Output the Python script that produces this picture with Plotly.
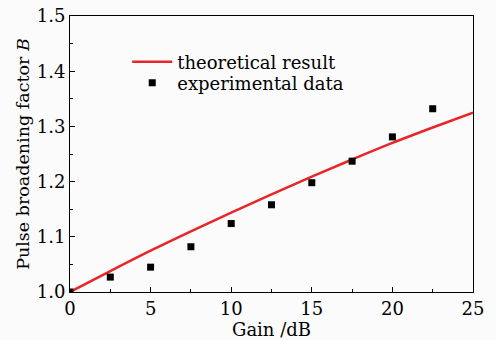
import plotly.graph_objects as go

gain_exp = [0, 2.5, 5, 7.5, 10, 12.5, 15, 17.5, 20, 22.5]
b_exp = [1.0, 1.027, 1.045, 1.082, 1.124, 1.158, 1.198, 1.237, 1.281, 1.332]

gain_theory = [0, 2.5, 5, 7.5, 10, 12.5, 15, 17.5, 20, 22.5, 25]
b_theory = [1.0, 1.038, 1.075, 1.110, 1.144, 1.177, 1.209, 1.240, 1.270, 1.298, 1.325]

x_ticks = [0, 5, 10, 15, 20, 25]
y_ticks = [1.0, 1.1, 1.2, 1.3, 1.4, 1.5]

FONT = "DejaVu Serif"

fig = go.Figure()
fig.add_trace(go.Scatter(x=gain_theory, y=b_theory, mode="lines",
                         name="theoretical result", legend="legend",
                         line=dict(color="#e8262a", width=2.5, shape="spline")))
fig.add_trace(go.Scatter(x=gain_exp, y=b_exp, mode="markers",
                         name="experimental data", legend="legend2",
                         marker=dict(symbol="square", color="black", size=7)))

axis_common = dict(showgrid=False, zeroline=False, showline=True, linecolor="black",
                   linewidth=1, mirror=True, ticks="inside", ticklen=5,
                   tickcolor="black", tickfont=dict(family=FONT, size=18, color="black"),
                   minor=dict(ticks="inside", ticklen=3, tickcolor="black"))

fig.update_xaxes(range=[0, 25], tickvals=x_ticks, ticktext=[str(v) for v in x_ticks],
                 minor_dtick=2.5,
                 title=dict(text="Gain /dB", font=dict(family=FONT, size=18, color="black"),
                            standoff=0),
                 **axis_common)
fig.update_yaxes(range=[1.0, 1.5], tickvals=y_ticks, ticktext=[f"{v:.1f}" for v in y_ticks],
                 minor_dtick=0.05,
                 title=dict(text="Pulse broadening factor <i>B</i>",
                            font=dict(family=FONT, size=17.5, color="black"), standoff=2),
                 **axis_common)

legend_common = dict(xanchor="left", yanchor="middle", bgcolor="rgba(0,0,0,0)",
                     itemwidth=40, font=dict(family=FONT, size=18, color="black"))

fig.update_layout(
    width=496, height=340,
    margin=dict(l=70, r=23, t=16, b=48, autoexpand=False),
    paper_bgcolor="#fbfbfb", plot_bgcolor="#fbfbfb",
    font=dict(family=FONT, size=18, color="black"),
    legend=dict(x=0.142, y=0.833, **legend_common),
    legend2=dict(x=0.142, y=0.757, **legend_common),
    showlegend=True,
)

fig.write_html("out.html", config={"displayModeBar": False},
               post_script="document.body.style.margin='0';")
